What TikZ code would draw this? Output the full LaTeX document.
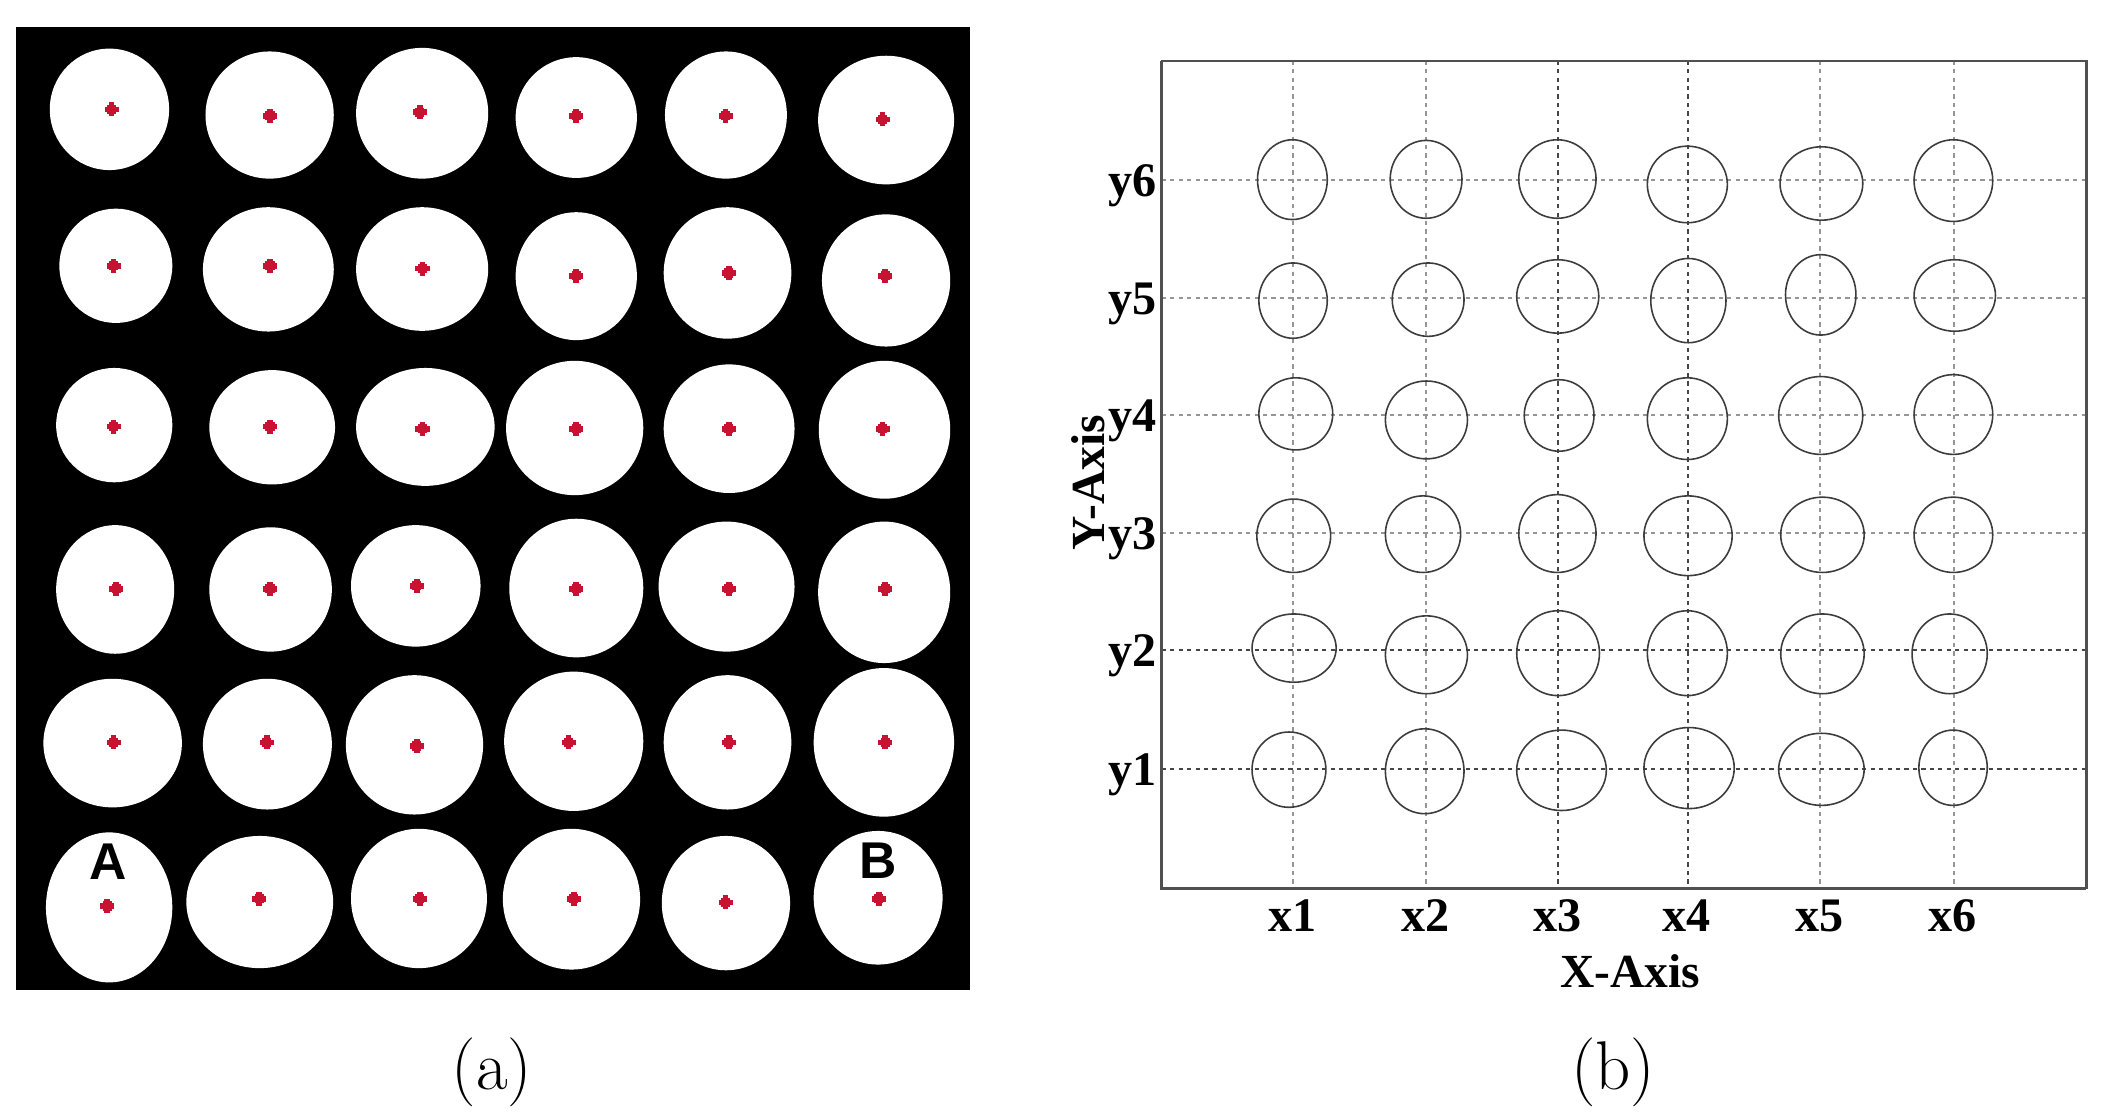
\documentclass[tikz,border=0pt]{standalone}
\usepackage{fontspec}
\newfontfamily\tnr{Liberation Serif}
\newfontfamily\arl{Liberation Sans}
\definecolor{dotred}{RGB}{200,18,50}
\definecolor{gridlight}{RGB}{150,150,150}
\definecolor{griddark}{RGB}{70,70,70}
\definecolor{ringcol}{RGB}{60,60,60}
\definecolor{framecol}{RGB}{80,80,80}
\tikzset{
  blob/.style={fill=white},
  ring/.style={draw=ringcol, line width=0.45pt},
  gridlt/.style={draw=gridlight, line width=0.55pt, dash pattern=on 1.2pt off 1.2pt},
  griddk/.style={draw=griddark, line width=0.55pt, dash pattern=on 1.2pt off 1.2pt},
  ticklab/.style={font=\tnr\bfseries\fontsize{13.7}{15}\selectfont, inner sep=0pt},
  axlab/.style={font=\tnr\bfseries\fontsize{13.5}{15}\selectfont, inner sep=0pt},
  cornerlab/.style={font=\arl\bfseries\fontsize{14.7}{16}\selectfont, inner sep=0pt},
  panellab/.style={font=\fontsize{19.6}{22}\selectfont, inner sep=0pt}
}
\begin{document}
\begin{tikzpicture}[x=0.01cm,y=-0.01cm]
\useasboundingbox (0,0) rectangle (2111,1117);
\fill[white] (0,0) rectangle (2111,1117);

% ---------------- panel (a) ----------------
\fill[black] (16,27) rectangle (970,990);
\begin{scope}[x=0.006378cm,y=-0.007138cm]
  \foreach \cx/\cy/\rx/\ry in {
    171.5/153/93.5/85, 422.5/161/100.5/89, 661.5/158.5/103.5/91.5, 903/164.5/95/84.5, 1137.5/161/95.5/89, 1388.5/168/106.5/90,
    181.5/372/88.5/80, 420.5/377/102.5/87, 661.5/376.5/103.5/86.5, 903/386.5/95/89.5, 1140/382/100/92, 1388.5/392.5/100.5/92.5,
    179/595/91/80, 426.5/598/98.5/80, 666.5/597.5/108.5/82.5, 900.5/599/107.5/94, 1142.5/600/102.5/90, 1386/601.5/103/96.5,
    180.5/825/92.5/90, 424/825/96/87, 651.5/820/101.5/85, 903/823/105/97, 1138.5/821/106.5/91, 1385.5/829/103.5/99,
    176.5/1040/108.5/90, 419/1041.5/101/91.5, 649.5/1042.5/107.5/97.5, 899/1037.5/109/97.5, 1140/1039/100/94, 1385/1039/110/104,
    171/1270/99/105, 407/1262.5/115/92.5, 656.5/1257.5/106.5/97.5, 895.5/1258.5/107.5/98.5, 1137.5/1264/100.5/94, 1376/1256.5/101/93.5}
  {\fill[blob] (\cx,\cy) ellipse [x radius=\rx, y radius=\ry];}
  \foreach \dx/\dy in {
    175/153, 423/162, 658/157, 903/162, 1137/162, 1383/167,
    178/372, 423/372, 662/376, 903/386, 1142/382, 1387/386,
    178/597, 423/597, 662/600, 903/600, 1142/600, 1383/600,
    182/824, 423/824, 653/820, 903/824, 1142/824, 1387/824,
    178/1039, 418/1039, 653/1044, 891/1039, 1142/1039, 1387/1039,
    168/1268, 406/1258, 658/1258, 899/1258, 1137/1263, 1377/1258}
  {\fill[dotred] (\dx,\dy) +(-2pt,-0.8pt) rectangle +(2pt,0.8pt);
   \fill[dotred] (\dx,\dy) +(-0.8pt,-2pt) rectangle +(0.8pt,2pt);
   \fill[dotred] (\dx,\dy) +(-1.3pt,-1.3pt) rectangle +(1.3pt,1.3pt);}
\end{scope}
\node[cornerlab, anchor=base] (labA) at (108.5,879) {A};
\node[cornerlab, anchor=base] (labB) at (878.5,878) {B};
\node[panellab] (capa) at (492,1072) {(a)};

% ---------------- panel (b) ----------------
\begin{scope}[shift={(1040,30)},x=0.006831cm,y=-0.006378cm]
  % grid lines
  \foreach \gy in {235,420,603,788} {\draw[gridlt] (178,\gy) -- (1530,\gy);}
  \foreach \gy in {972,1158} {\draw[griddk] (178,\gy) -- (1530,\gy);}
  \foreach \gx in {370,565,1141,1336} {\draw[gridlt] (\gx,48) -- (\gx,1345);}
  \foreach \gx in {758,947} {\draw[griddk] (\gx,48) -- (\gx,1345);}
  % rings
  \foreach \cx/\cy/\rx/\ry in {
    369/234.5/51/62.5, 564.5/234/52.5/61, 756.5/233.5/56.5/61.5, 946.5/242/58.5/60, 1142.5/240.5/60.5/57.5, 1335.5/236/57.5/64,
    370/424/50/59, 567.5/422.5/52.5/57.5, 757/417.5/60/57.5, 948/424/55/66, 1141.5/415/51.5/63, 1337.5/416/59.5/56,
    374/601.5/54/56.5, 565/611/60/61, 759/604/51/56, 946.5/609/58.5/64, 1141.5/604/61.5/61, 1335.5/602.5/57.5/62.5,
    371/792.5/54/57.5, 560/790/55/60, 756.5/789/56.5/61, 947.5/792.5/64.5/62.5, 1144/791/61/59, 1335.5/791/57.5/59,
    371.5/968.5/61.5/53.5, 565/979/60/61, 757.5/976.5/60.5/66.5, 946.5/976.5/58.5/66.5, 1144/977.5/61/62.5, 1330/977.5/55/62.5,
    364/1159/54/59, 562.5/1161.5/57.5/66.5, 762.5/1160/65.5/63, 949/1156.5/66/63.5, 1142.5/1158.5/62.5/56.5, 1335/1156/50/59}
  {\draw[ring] (\cx,\cy) ellipse [x radius=\rx, y radius=\ry];}
  % frame
  \draw[framecol, line width=0.6pt] (178,48) rectangle (1530,1345);
  \draw[framecol, line width=0.85pt] (178,48) -- (178,1345) -- (1530,1345);
\end{scope}
% tick labels
\foreach \i/\gy in {6/179.9,5/297.9,4/414.6,3/532.6,2/649.9,1/768.5}
  {\node[ticklab, anchor=base east] (ylab\i) at (1157,\gy+17) {y\i};}
\foreach \i/\gx in {1/1292.7,2/1425.9,3/1557.8,4/1686.9,5/1819.4,6/1952.6}
  {\node[ticklab, anchor=base] (xlab\i) at (\gx,931) {x\i};}
\node[axlab, anchor=base] (xaxis) at (1630,987) {X-Axis};
\node[axlab, anchor=base, rotate=90] (yaxis) at (1104,483) {Y-Axis};
\node[panellab] (capb) at (1613,1072) {(b)};
\end{tikzpicture}
\end{document}
